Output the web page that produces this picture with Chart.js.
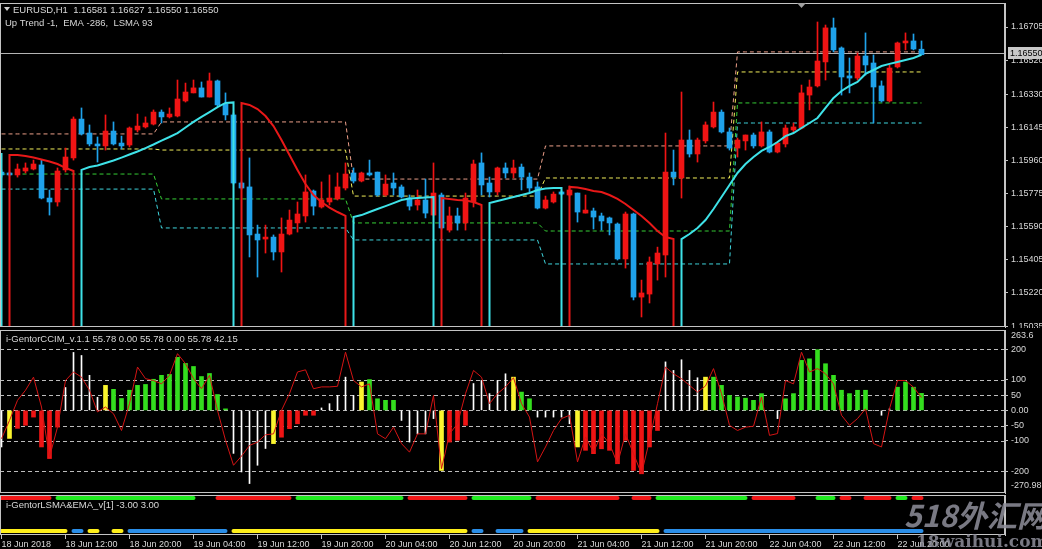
<!DOCTYPE html>
<html>
<head>
<meta charset="utf-8">
<script src="https://cdn.jsdelivr.net/npm/chart.js@4.4.1/dist/chart.umd.min.js"></script>
<style>
  html, body { margin: 0; padding: 0; background: #000; overflow: hidden; }
  #wrap { position: relative; width: 1042px; height: 549px; background: #000; }
  canvas { position: absolute; left: 0; }
</style>
</head>
<body>
<div id="wrap">
  <canvas id="main" width="1042" height="328" style="top:0;width:1042px;height:328px"></canvas>
  <canvas id="cci" width="1042" height="166" style="top:328px;width:1042px;height:166px"></canvas>
  <canvas id="lsma" width="1042" height="55" style="top:494px;width:1042px;height:55px"></canvas>
</div>
<script>
// ---- data (EURUSD H1, bar 0 = 18 Jun 04:00) ----
const timeLabels = ['18 Jun 2018', '18 Jun 12:00', '18 Jun 20:00', '19 Jun 04:00', '19 Jun 12:00',
  '19 Jun 20:00', '20 Jun 04:00', '20 Jun 12:00', '20 Jun 20:00', '21 Jun 04:00', '21 Jun 12:00',
  '21 Jun 20:00', '22 Jun 04:00', '22 Jun 12:00', '22 Jun 20:00'];
const labelEvery = 8;

const open = [1.15895, 1.15890, 1.15879, 1.15901, 1.15912, 1.15935, 1.15750, 1.15728, 1.15907, 1.15974,
  1.16191, 1.16113, 1.16052, 1.16041, 1.16124, 1.16057, 1.16046, 1.16130, 1.16147, 1.16163,
  1.16230, 1.16203, 1.16208, 1.16292, 1.16337, 1.16365, 1.16314, 1.16404, 1.16275, 1.16214,
  1.15834, 1.15812, 1.15549, 1.15521, 1.15532, 1.15449, 1.15549, 1.15611, 1.15650, 1.15789,
  1.15700, 1.15728, 1.15745, 1.15806, 1.15890, 1.15845, 1.15890, 1.15895, 1.15767, 1.15834,
  1.15812, 1.15750, 1.15711, 1.15739, 1.15655, 1.15767, 1.15571, 1.15650, 1.15611, 1.15728,
  1.15946, 1.15834, 1.15784, 1.15918, 1.15890, 1.15923, 1.15867, 1.15812, 1.15694, 1.15728,
  1.15784, 1.15767, 1.15778, 1.15666, 1.15678, 1.15650, 1.15639, 1.15605, 1.15410, 1.15661,
  1.15197, 1.15214, 1.15382, 1.15432, 1.15895, 1.15862, 1.16074, 1.15996, 1.16069, 1.16147,
  1.16230, 1.16119, 1.16029, 1.16069, 1.16102, 1.16041, 1.16119, 1.16007, 1.16052, 1.16130,
  1.16141, 1.16325, 1.16376, 1.16510, 1.16700, 1.16588, 1.16432, 1.16420, 1.16543, 1.16504,
  1.16376, 1.16292, 1.16482, 1.16616, 1.16627, 1.16581];
const high = [1.15907, 1.15895, 1.15940, 1.15946, 1.15962, 1.15962, 1.15795, 1.15918, 1.16029, 1.16203,
  1.16253, 1.16158, 1.16091, 1.16214, 1.16175, 1.16096, 1.16147, 1.16219, 1.16203, 1.16242,
  1.16242, 1.16253, 1.16409, 1.16392, 1.16409, 1.16398, 1.16448, 1.16409, 1.16337, 1.16225,
  1.15840, 1.15974, 1.15599, 1.15599, 1.15544, 1.15639, 1.15683, 1.15728, 1.15879, 1.15795,
  1.15840, 1.15879, 1.15890, 1.15946, 1.15918, 1.15895, 1.15962, 1.15895, 1.15879, 1.15890,
  1.15823, 1.15767, 1.15795, 1.15856, 1.15946, 1.15778, 1.15700, 1.15694, 1.15778, 1.15962,
  1.16002, 1.15867, 1.15923, 1.15946, 1.15962, 1.15940, 1.15890, 1.15840, 1.15761, 1.15784,
  1.15789, 1.15817, 1.15778, 1.15767, 1.15694, 1.15666, 1.15644, 1.15611, 1.15672, 1.15666,
  1.15292, 1.15421, 1.15476, 1.16113, 1.16018, 1.16342, 1.16130, 1.16085, 1.16175, 1.16286,
  1.16242, 1.16141, 1.16085, 1.16102, 1.16113, 1.16175, 1.16130, 1.16063, 1.16158, 1.16169,
  1.16381, 1.16409, 1.16733, 1.16716, 1.16755, 1.16594, 1.16532, 1.16560, 1.16672, 1.16549,
  1.16404, 1.16493, 1.16621, 1.16672, 1.16666, 1.16627];
const low = [1.15867, 1.15873, 1.15867, 1.15890, 1.15907, 1.15745, 1.15655, 1.15705, 1.15895, 1.15962,
  1.16102, 1.16041, 1.15951, 1.16018, 1.16046, 1.16024, 1.16035, 1.16119, 1.16141, 1.16158,
  1.16169, 1.16197, 1.16203, 1.16286, 1.16337, 1.16314, 1.16314, 1.16264, 1.16186, 1.15828,
  1.15800, 1.15421, 1.15309, 1.15443, 1.15404, 1.15337, 1.15544, 1.15560, 1.15616, 1.15655,
  1.15694, 1.15711, 1.15739, 1.15795, 1.15834, 1.15840, 1.15873, 1.15761, 1.15761, 1.15767,
  1.15750, 1.15683, 1.15683, 1.15639, 1.15650, 1.15577, 1.15560, 1.15571, 1.15571, 1.15700,
  1.15767, 1.15756, 1.15767, 1.15862, 1.15862, 1.15795, 1.15784, 1.15689, 1.15689, 1.15722,
  1.15767, 1.15761, 1.15616, 1.15666, 1.15577, 1.15571, 1.15544, 1.15404, 1.15359, 1.15181,
  1.15086, 1.15164, 1.15292, 1.15309, 1.15823, 1.15750, 1.15979, 1.15951, 1.16057, 1.16141,
  1.16113, 1.16018, 1.15979, 1.16018, 1.16029, 1.16035, 1.16002, 1.16002, 1.16035, 1.16119,
  1.16136, 1.16242, 1.16370, 1.16409, 1.16566, 1.16325, 1.16337, 1.16409, 1.16437, 1.16169,
  1.16286, 1.16286, 1.16476, 1.16577, 1.16577, 1.16550];
const close = [1.15879, 1.15879, 1.15912, 1.15918, 1.15940, 1.15750, 1.15728, 1.15901, 1.15979, 1.16191,
  1.16108, 1.16052, 1.16041, 1.16124, 1.16052, 1.16041, 1.16141, 1.16152, 1.16169, 1.16230,
  1.16203, 1.16219, 1.16303, 1.16342, 1.16365, 1.16314, 1.16404, 1.16270, 1.16214, 1.15834,
  1.15806, 1.15544, 1.15516, 1.15532, 1.15449, 1.15549, 1.15627, 1.15661, 1.15784, 1.15705,
  1.15739, 1.15750, 1.15812, 1.15884, 1.15845, 1.15890, 1.15879, 1.15767, 1.15828, 1.15806,
  1.15756, 1.15705, 1.15739, 1.15666, 1.15778, 1.15583, 1.15650, 1.15611, 1.15750, 1.15940,
  1.15823, 1.15784, 1.15918, 1.15890, 1.15918, 1.15867, 1.15806, 1.15694, 1.15739, 1.15772,
  1.15772, 1.15795, 1.15672, 1.15683, 1.15644, 1.15622, 1.15611, 1.15410, 1.15661, 1.15197,
  1.15220, 1.15393, 1.15443, 1.15895, 1.15867, 1.16074, 1.15996, 1.16074, 1.16158, 1.16230,
  1.16119, 1.16029, 1.16074, 1.16102, 1.16041, 1.16119, 1.16007, 1.16057, 1.16141, 1.16147,
  1.16337, 1.16370, 1.16515, 1.16700, 1.16577, 1.16426, 1.16420, 1.16543, 1.16493, 1.16370,
  1.16292, 1.16476, 1.16616, 1.16627, 1.16582, 1.16550];

// LSMA/EMA trend line and its direction (U = up/cyan, D = down/red)
const trendLine = [1.16002,
  1.15990, 1.15990, 1.15985, 1.15976, 1.15965, 1.15954, 1.15940, 1.15918, 1.15901,
  1.15907, 1.15923, 1.15932, 1.15946, 1.15960, 1.15976, 1.15993, 1.16010, 1.16029, 1.16049,
  1.16071, 1.16091, 1.16113, 1.16144, 1.16175, 1.16203, 1.16230, 1.16258, 1.16281, 1.16284,
  1.16281, 1.16270, 1.16247, 1.16208, 1.16152, 1.16074, 1.15990, 1.15907, 1.15828, 1.15767,
  1.15728, 1.15697, 1.15672, 1.15650,
  1.15644, 1.15655, 1.15672, 1.15689, 1.15705, 1.15722, 1.15739, 1.15747, 1.15750, 1.15753, 1.15756,
  1.15750, 1.15745, 1.15739, 1.15736, 1.15728, 1.15711,
  1.15722, 1.15733, 1.15745, 1.15756, 1.15767, 1.15778, 1.15795, 1.15803, 1.15806, 1.15806,
  1.15812, 1.15809, 1.15800, 1.15789, 1.15784, 1.15767, 1.15745, 1.15717, 1.15683, 1.15650,
  1.15611, 1.15566, 1.15532, 1.15521,
  1.15521, 1.15549, 1.15583, 1.15627, 1.15689, 1.15756, 1.15823, 1.15890, 1.15940, 1.15979,
  1.16013, 1.16035, 1.16063, 1.16096, 1.16113, 1.16141, 1.16169, 1.16197, 1.16253, 1.16309,
  1.16348, 1.16376, 1.16398, 1.16443, 1.16465, 1.16487, 1.16499, 1.16510, 1.16521, 1.16532, 1.16549];
const trendDirRuns = [['U', 1], ['D', 9], ['U', 20], ['D', 14], ['U', 11], ['D', 6], ['U', 10], ['D', 14], ['U', 31]];

// stepped dashed levels: first bar of each block and the four levels
const levelStart = [0, 20, 44, 68, 92];
const levelPink = [1.16108, 1.16175, 1.15856, 1.16041, 1.16566];
const levelYellow = [1.16024, 1.16018, 1.15761, 1.15862, 1.16454];
const levelGreen = [1.15884, 1.15745, 1.15611, 1.15566, 1.16281];
const levelCyan = [1.15800, 1.15583, 1.15516, 1.15382, 1.16169];

const priceTicks = [1.16705, 1.16520, 1.16330, 1.16145, 1.15960, 1.15775, 1.15590, 1.15405, 1.15220, 1.15035];
const priceMin = 1.15030, priceMax = 1.16839;

// i-GentorCCIM histogram, colour per bar (W white, Y yellow, R red, G green) and signal line
const cciHist = [-120, -92, -59, -49, -22, -120, -158, -55, 75, 190,
  180, 115, 43, 82, 69, 39, 66, 82, 85, 102,
  115, 118, 174, 154, 144, 111, 121, 52, 5, -141,
  -202, -240, -180, -125, -109, -88, -60, -44, -16, -16,
  8, 22, 49, 109, 49, 93, 101, 38, 33, 33,
  -33, -104, -77, -77, -27, -197, -104, -98, -49, 88,
  98, 55, 98, 120, 109, 60, 38, -22, -22, -22,
  -22, -44, -120, -131, -142, -126, -131, -175, -98, -197,
  -208, -120, -66, 159, 131, 166, 131, 107, 109, 109,
  82, 49, 44, 40, 33, 55, 0, -27, 38, 55,
  164, 169, 199, 153, 115, 66, 55, 66, 66, 0,
  -16, 5, 76, 93, 76, 55.78];
const cciColorRuns = [['W', 1], ['Y', 1], ['R', 6], ['W', 5], ['Y', 1], ['G', 15], ['W', 5], ['Y', 1], ['R', 5],
  ['W', 5], ['Y', 1], ['G', 4], ['W', 5], ['Y', 1], ['R', 3], ['W', 5], ['Y', 1], ['G', 2], ['W', 5], ['Y', 1],
  ['R', 10], ['W', 5], ['Y', 1], ['G', 7], ['W', 2], ['G', 11], ['W', 3], ['G', 4]];
const cciLine = [-93, -33, 33, 66, 109, 11, -153, -55, 98, 126,
  109, 66, -5, 11, -11, -66, 22, 142, 104, 98,
  87, 115, 186, 153, 104, 71, 115, 0, -98, -180,
  -150, -115, -104, -80, -77, 0, 55, 126, 133, 71,
  77, 77, 79, 191, 98, 77, 87, -77, -93, -55,
  -109, -137, -77, -77, 49, -191, -77, -44, 55, 131,
  109, 22, 55, 77, 107, 22, -22, -169, -120, -66,
  -27, -16, -169, -87, -137, -77, -109, -175, -77, -142,
  -208, -98, 22, 142, 120, 104, 82, 60, 80, 137,
  55, -49, -66, -55, -52, 44, -82, -76, 98, 87,
  191, 126, 137, 120, 87, -16, -49, -27, 5, -109,
  -120, 5, 98, 98, 76, 42.15];
const cciLevels = [200, 100, 50, 0, -50, -100, -200];
const cciMin = -270.98, cciMax = 263.6;

// i-GentorLSMA&EMA: upper row (+3) R/G, lower row (-3) Y/B, '-' = nothing
const lsmaUpperRuns = [['R', 7], ['G', 18], ['-', 2], ['R', 10], ['G', 14], ['R', 8], ['G', 8], ['R', 11], ['-', 1],
  ['R', 3], ['G', 12], ['R', 6], ['-', 2], ['G', 3], ['R', 2], ['-', 1], ['R', 4], ['G', 2], ['R', 2]];
const lsmaLowerRuns = [['Y', 9], ['B', 2], ['Y', 2], ['-', 1], ['Y', 2], ['B', 13], ['Y', 30], ['B', 2], ['-', 1],
  ['B', 4], ['Y', 17], ['B', 33]];

// ---- styling ----
const BULL = '#f01414', BEAR = '#1fa2ea';
const UP_LINE = '#3ee2e8', DOWN_LINE = '#e81818';
const FRAME = '#c4c4c4', TEXT = '#d8d8d8';
const FONT = '"Liberation Sans", Arial, sans-serif';
const LABEL_FONT = `9.5px ${FONT}`;
Chart.defaults.font.family = FONT;
Chart.defaults.font.size = 9;
Chart.defaults.color = TEXT;

const N = close.length;
const bars = [...Array(N).keys()];
const runsToArray = runs => runs.flatMap(([c, n]) => Array(n).fill(c));
const trendDir = runsToArray(trendDirRuns);
const cciColor = runsToArray(cciColorRuns);
const lsmaUpper = runsToArray(lsmaUpperRuns);
const lsmaLower = runsToArray(lsmaLowerRuns);

// 8 px per bar, plot area 1005 px wide
const X_MIN = -0.1875, X_MAX = X_MIN + 1005 / 8;

function xScale(show) {
  const s = {
    type: 'linear', min: X_MIN, max: X_MAX, offset: false, display: show,
    grid: { display: false, offset: false }, border: { display: false },
    ticks: { display: false }
  };
  if (show) {
    s.grid = { display: true, offset: false, drawOnChartArea: false, drawTicks: true, tickLength: 4, color: FRAME };
    s.ticks = {
      display: true, align: 'start', padding: 0, autoSkip: false, maxRotation: 0, minRotation: 0, color: TEXT,
      callback: v => timeLabels[Math.round(v / labelEvery)] || ''
    };
    s.afterBuildTicks = sc => { sc.ticks = timeLabels.map((t, k) => ({ value: k * labelEvery })); };
    s.afterFit = sc => { sc.height = 14; sc.paddingLeft = 0; sc.paddingRight = 0; };
  }
  return s;
}

function yScale(min, max, ticks, labelFn) {
  return {
    type: 'linear', position: 'right', min, max,
    afterFit: sc => { sc.width = 37; sc.paddingTop = 0; sc.paddingBottom = 0; },
    afterBuildTicks: sc => { sc.ticks = ticks.map(v => ({ value: v })); },
    grid: { drawOnChartArea: false, drawTicks: ticks.length > 0, tickLength: 3, color: FRAME },
    border: { display: true, color: FRAME },
    ticks: { display: ticks.length > 0, autoSkip: false, padding: 3, color: TEXT, callback: labelFn }
  };
}

function frame(chart) {
  const { ctx, chartArea: a } = chart;
  ctx.save();
  ctx.strokeStyle = FRAME;
  ctx.lineWidth = 1;
  ctx.strokeRect(Math.floor(a.left) + 0.5, Math.floor(a.top) + 0.5, Math.round(a.right - a.left) - 1, Math.round(a.bottom - a.top) - 1);
  ctx.restore();
}

function text(ctx, str, x, y, color, font) {
  ctx.save();
  ctx.font = font || `9px ${FONT}`;
  ctx.fillStyle = color || TEXT;
  ctx.textBaseline = 'middle';
  ctx.fillText(str, x, y);
  ctx.restore();
}

const baseOptions = {
  responsive: false, animation: false, devicePixelRatio: 1, events: [],
  plugins: { legend: { display: false }, tooltip: { enabled: false } }
};

// ---- main price panel ----
function levelSeries(vals) {
  return bars.map(i => {
    let k = 0;
    while (k + 1 < levelStart.length && levelStart[k + 1] <= i) k++;
    return { x: i, y: vals[k] };
  });
}

function trendPoints(dir) {
  const pts = [];
  bars.forEach(i => {
    if (trendDir[i] !== dir) {
      if (pts.length && pts[pts.length - 1].y !== null) pts.push({ x: i, y: null });
      return;
    }
    if (i > 0 && trendDir[i - 1] !== dir) pts.push({ x: i, y: priceMin });
    pts.push({ x: i, y: trendLine[i] });
    if (i < N - 1 && trendDir[i + 1] !== dir) pts.push({ x: i, y: priceMin });
  });
  return pts;
}

const candleColors = bars.map(i => close[i] > open[i] ? BULL : BEAR);
const levelDs = (data, color) => ({
  type: 'line', data: levelSeries(data), borderColor: color, borderWidth: 1, borderDash: [4, 3],
  pointRadius: 0, tension: 0, order: 3
});

const mainPlugin = {
  id: 'mainDecor',
  beforeDatasetsDraw(chart) {
    const { ctx, chartArea: a, scales: { y } } = chart;
    const py = Math.round(y.getPixelForValue(close[N - 1])) - 1.5;
    ctx.save();
    ctx.strokeStyle = '#b4b4b4';
    ctx.lineWidth = 1;
    ctx.beginPath(); ctx.moveTo(a.left, py); ctx.lineTo(a.right, py); ctx.stroke();
    ctx.restore();
  },
  afterDraw(chart) {
    const { ctx, chartArea: a, scales: { y } } = chart;
    frame(chart);
    ctx.save();
    ctx.fillStyle = '#d0d0d0';
    ctx.beginPath(); ctx.moveTo(4, 7); ctx.lineTo(10, 7); ctx.lineTo(7, 11); ctx.closePath(); ctx.fill();
    ctx.fillStyle = '#a0a0a0';
    ctx.beginPath(); ctx.moveTo(797, 3); ctx.lineTo(806, 3); ctx.lineTo(801.5, 8); ctx.closePath(); ctx.fill();
    ctx.restore();
    const ohlc = [open[N - 1], high[N - 1], low[N - 1], close[N - 1]].map(v => v.toFixed(5)).join(' ');
    text(ctx, 'EURUSD,H1  ' + ohlc, 13, 10, TEXT, LABEL_FONT);
    text(ctx, 'Up Trend -1,  EMA -286,  LSMA 93', 5, 23, TEXT, LABEL_FONT);
    const py = Math.round(y.getPixelForValue(close[N - 1])) - 2;
    ctx.save();
    ctx.fillStyle = '#c8c8c8';
    ctx.fillRect(a.right + 3, py - 6, 40, 12);
    ctx.restore();
    text(ctx, close[N - 1].toFixed(5), a.right + 5, py + 0.5, '#000');
  }
};

new Chart(document.getElementById('main'), {
  type: 'bar',
  data: {
    datasets: [
      levelDs(levelPink, '#eea08a'),
      levelDs(levelYellow, '#f2ee5a'),
      levelDs(levelGreen, '#36cf36'),
      levelDs(levelCyan, '#3fd6de'),
      {
        label: 'wick', data: bars.map(i => ({ x: i, y: [low[i], high[i]] })),
        backgroundColor: candleColors, barThickness: 1, maxBarThickness: 1, grouped: false, order: 2
      },
      {
        label: 'body', data: bars.map(i => ({ x: i, y: [open[i], close[i]] })),
        backgroundColor: candleColors, barThickness: 5, maxBarThickness: 5, minBarLength: 1, grouped: false, order: 1
      },
      {
        type: 'line', label: 'up', data: trendPoints('U'), borderColor: UP_LINE, borderWidth: 2,
        pointRadius: 0, tension: 0, spanGaps: false, order: 0
      },
      {
        type: 'line', label: 'down', data: trendPoints('D'), borderColor: DOWN_LINE, borderWidth: 2,
        pointRadius: 0, tension: 0, spanGaps: false, order: 0
      }
    ]
  },
  options: {
    ...baseOptions,
    layout: { padding: { left: 0, right: 0, top: 3, bottom: 1 } },
    scales: {
      x: xScale(false),
      y: yScale(priceMin, priceMax, priceTicks, v => v.toFixed(5))
    }
  },
  plugins: [mainPlugin]
});

// ---- CCI panel ----
const cciBar = (code, color, w) => ({
  data: bars.filter(i => cciColor[i] === code).map(i => ({ x: i, y: [0, cciHist[i]] })),
  backgroundColor: color, barThickness: w, maxBarThickness: w, grouped: false, order: 1
});

const cciPlugin = {
  id: 'cciDecor',
  beforeDatasetsDraw(chart) {
    const { ctx, chartArea: a, scales: { y } } = chart;
    ctx.save();
    ctx.strokeStyle = '#bcbcbc';
    ctx.lineWidth = 1;
    ctx.setLineDash([4, 3]);
    cciLevels.forEach(v => {
      const py = Math.round(y.getPixelForValue(v)) + 0.5;
      ctx.beginPath(); ctx.moveTo(a.left, py); ctx.lineTo(a.right, py); ctx.stroke();
    });
    ctx.restore();
  },
  afterDraw(chart) {
    const { ctx, chartArea: a } = chart;
    frame(chart);
    const h = cciHist[N - 1].toFixed(2), l = cciLine[N - 1].toFixed(2);
    text(ctx, `i-GentorCCIM_v.1.1 ${h} 0.00 ${h} 0.00 ${h} ${l}`, 6, a.top + 9, TEXT, LABEL_FONT);
    text(ctx, String(cciMax), a.right + 6, a.top + 6);
    text(ctx, cciMin.toFixed(2), a.right + 6, a.bottom - 7);
  }
};

new Chart(document.getElementById('cci'), {
  type: 'bar',
  data: {
    datasets: [
      cciBar('W', '#ffffff', 1),
      cciBar('R', '#ee1414', 4),
      cciBar('G', '#34de1e', 4),
      cciBar('Y', '#fbf52e', 4),
      {
        type: 'line', data: bars.map(i => ({ x: i, y: cciLine[i] })), borderColor: '#d41414', borderWidth: 1,
        pointRadius: 0, tension: 0, order: 0
      }
    ]
  },
  options: {
    ...baseOptions,
    layout: { padding: { left: 0, right: 0, top: 2, bottom: 1 } },
    scales: {
      x: xScale(false),
      y: yScale(cciMin, cciMax, cciLevels, v => v === 0 ? '0.00' : String(v))
    }
  },
  plugins: [cciPlugin]
});

// ---- LSMA & EMA panel + time axis ----
const lsmaDs = (codes, code, value, color) => ({
  data: bars.map(i => ({ x: i, y: codes[i] === code ? value : null })),
  borderColor: color, borderWidth: 4, borderCapStyle: 'round', pointRadius: 0, tension: 0, spanGaps: false
});

const lsmaPlugin = {
  id: 'lsmaDecor',
  afterDraw(chart) {
    const { ctx, chartArea: a } = chart;
    frame(chart);
    text(ctx, 'i-GentorLSMA&EMA_v[1] -3.00 3.00', 6, a.top + 10, TEXT, LABEL_FONT);
    // site watermark in the lower right corner
    ctx.save();
    ctx.globalAlpha = 0.85;
    ctx.fillStyle = '#8e8e9a';
    ctx.textBaseline = 'alphabetic';
    ctx.font = 'italic bold 30px "Noto Sans CJK SC", sans-serif';
    ctx.fillText('518外汇网', 904, 33);
    ctx.font = 'bold 17px "DejaVu Serif", serif';
    ctx.fillText('18waihui.com', 916, 53);
    ctx.restore();
  }
};

new Chart(document.getElementById('lsma'), {
  type: 'line',
  data: {
    datasets: [
      lsmaDs(lsmaUpper, 'R', 3, '#f01818'),
      lsmaDs(lsmaUpper, 'G', 3, '#22ec22'),
      lsmaDs(lsmaLower, 'Y', -3, '#fff01a'),
      lsmaDs(lsmaLower, 'B', -3, '#2a8ee8')
    ]
  },
  options: {
    ...baseOptions,
    layout: { padding: { left: 0, right: 0, top: 1, bottom: 0 } },
    scales: {
      x: xScale(true),
      y: yScale(-3.73, 3.55, [], v => '')
    }
  },
  plugins: [lsmaPlugin]
});
</script>
</body>
</html>
